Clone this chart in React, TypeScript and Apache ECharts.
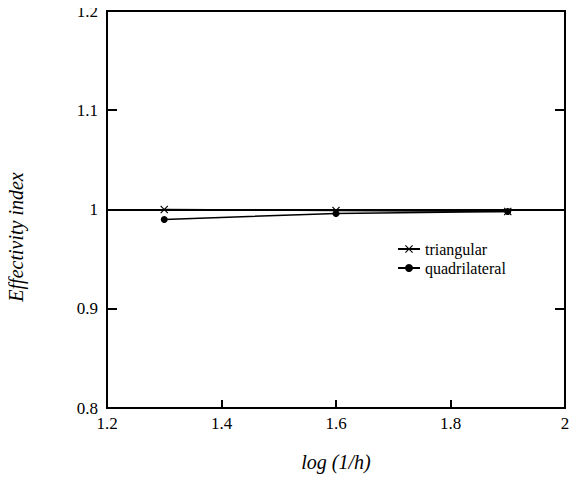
import React, { useEffect, useRef } from "react";
import * as echarts from "echarts";

const xValues = [1.3, 1.6, 1.9];
const triangular = [1.0, 0.999, 0.998];
const quadrilateral = [0.99, 0.996, 0.998];
const xTicks = [1.2, 1.4, 1.6, 1.8, 2];
const yTicks = [0.8, 0.9, 1, 1.1, 1.2];

const FONT = "Liberation Serif";
const crossPath =
  "path://M0,1L1,0L5,4L9,0L10,1L6,5L10,9L9,10L5,6L1,10L0,9L4,5Z";

const GRID = { left: 107, right: 13, top: 11, bottom: 75 };

export default function App() {
  const refA = useRef<HTMLDivElement>(null);
  const refB = useRef<HTMLDivElement>(null);
  useEffect(() => {
    if (!refA.current || !refB.current) return;
    const xMin = xTicks[0];
    const xMax = xTicks[xTicks.length - 1];
    const yMin = yTicks[0];
    const yMax = yTicks[yTicks.length - 1];
    const fmt = (v: number) => String(v);

    // Chart A: tick labels and axis names
    const a = echarts.init(refA.current, undefined, { renderer: "svg" });
    a.setOption({
      animation: false,
      grid: { ...GRID, outerBoundsMode: "none" },
      xAxis: {
        type: "value",
        min: xMin,
        max: xMax,
        interval: 0.2,
        name: "log (1/h)",
        nameLocation: "middle",
        nameGap: 44,
        nameTextStyle: { fontFamily: FONT, fontStyle: "italic", fontSize: 20, color: "#000" },
        axisLine: { show: false },
        axisTick: { show: false },
        axisLabel: { fontFamily: FONT, fontSize: 17, color: "#000", margin: 7, formatter: fmt },
        splitLine: { show: false },
      },
      yAxis: {
        type: "value",
        min: yMin,
        max: yMax,
        interval: 0.1,
        axisLine: { show: false },
        axisTick: { show: false },
        axisLabel: { fontFamily: FONT, fontSize: 17, color: "#000", margin: 9, formatter: fmt },
        splitLine: { show: false },
      },
      graphic: [
        {
          type: "text",
          x: 16,
          y: 237,
          rotation: Math.PI / 2,
          style: {
            text: "Effectivity index",
            fontFamily: FONT,
            fontStyle: "italic",
            fontSize: 20,
            fill: "#000",
            align: "center",
            verticalAlign: "middle",
          },
        },
      ],
      series: [],
    });

    // Chart B: frame, ticks, data, legend
    const b = echarts.init(refB.current, undefined, { renderer: "svg" });
    const tickY = (pos: string) => ({
      type: "value",
      position: pos,
      min: yMin,
      max: yMax,
      interval: 0.1,
      axisLine: { show: true, lineStyle: { color: "#000", width: 2 } },
      axisTick: { show: true, inside: true, length: 10, lineStyle: { color: "#000", width: 2 } },
      axisLabel: undefined,
      splitLine: { show: false },
    });
    b.setOption({
      animation: false,
      textStyle: { fontFamily: FONT, color: "#000" },
      grid: { ...GRID, show: true, borderColor: "#000", borderWidth: 2 },
      legend: {
        orient: "vertical",
        left: 392,
        top: 236,
        itemGap: 3,
        itemWidth: 22,
        itemHeight: 10,
        textStyle: { fontFamily: FONT, fontSize: 16, color: "#000" },
        data: ["triangular", "quadrilateral"],
      },
      xAxis: {
        type: "value",
        min: xMin,
        max: xMax,
        interval: 0.2,
        axisLine: { show: true, lineStyle: { color: "#000", width: 2 } },
        axisTick: { show: true, inside: true, length: 8, lineStyle: { color: "#000", width: 2 } },
        axisLabel: undefined,
        splitLine: { show: false },
      },
      yAxis: [tickY("left"), tickY("right")],
      series: [
        {
          name: "triangular",
          type: "line",
          data: xValues.map((x, i) => [x, triangular[i]]),
          symbol: crossPath,
          symbolSize: 8,
          lineStyle: { color: "#000", width: 1.5 },
          itemStyle: { color: "#000" },
          markLine: {
            silent: true,
            symbol: "none",
            label: { show: false },
            lineStyle: { color: "#000", width: 2, type: "solid" },
            data: [{ yAxis: 1 }],
          },
          z: 3,
        },
        {
          name: "quadrilateral",
          type: "line",
          data: xValues.map((x, i) => [x, quadrilateral[i]]),
          symbol: "circle",
          symbolSize: 7,
          lineStyle: { color: "#000", width: 1.5 },
          itemStyle: { color: "#000" },
          z: 3,
        },
      ],
    });
    return () => {
      a.dispose();
      b.dispose();
    };
  }, []);
  return (
    <div style={{ position: "relative", width: 578, height: 483, margin: -8 }}>
      <div ref={refA} style={{ position: "absolute", left: 0, top: 0, width: 578, height: 483 }} />
      <div ref={refB} style={{ position: "absolute", left: 0, top: 0, width: 578, height: 483 }} />
    </div>
  );
}
